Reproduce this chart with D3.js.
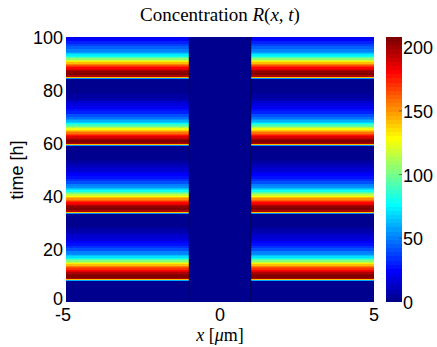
<!DOCTYPE html>
<html>
<head>
<meta charset="utf-8">
<script src="https://cdn.jsdelivr.net/npm/d3@7"></script>
<style>
  body { margin: 0; background: #fff; }
  svg { display: block; }
</style>
</head>
<body>
<script>
// concentration R(x,t): outer regions |x|>1 share one time profile, the gap |x|<1 stays at zero
const regionBounds = [-5, -1, 1, 5];
const regionHasR = [true, false, true];

// time samples [h] (each value holds until the next sample)
const timeH = [
  0, 7.9, 8.3, 8.7, 9.2, 9.7, 10.2, 10.7, 11.2, 11.7, 12.2, 12.7, 13.2, 13.7, 14.2, 14.7, 15.2, 15.7, 16.2, 16.7, 17.2, 17.7, 18.2, 19.2, 20.2, 21.2, 22.2, 23.2, 24.2, 25.2, 26.2, 27.2, 28.2, 29.2, 30.2,
  33.3, 33.7, 34.1, 34.6, 35.1, 35.6, 36.1, 36.6, 37.1, 37.6, 38.1, 38.6, 39.1, 39.6, 40.1, 40.6, 41.1, 41.6, 42.1, 42.6, 43.1, 43.6, 44.6, 45.6, 46.6, 47.6, 48.6, 49.6, 50.6, 51.6, 52.6, 53.6, 54.6, 55.6,
  58.7, 59.1, 59.5, 60.0, 60.5, 61.0, 61.5, 62.0, 62.5, 63.0, 63.5, 64.0, 64.5, 65.0, 65.5, 66.0, 66.5, 67.0, 67.5, 68.0, 68.5, 69.0, 70.0, 71.0, 72.0, 73.0, 74.0, 75.0, 76.0, 77.0, 78.0, 79.0, 80.0, 81.0,
  84.2, 84.6, 85.0, 85.5, 86.0, 86.5, 87.0, 87.5, 88.0, 88.5, 89.0, 89.5, 90.0, 90.5, 91.0, 91.5, 92.0, 92.5, 93.0, 93.5, 94.0, 94.5, 95.5, 96.5, 97.5, 98.5, 99.5, 100
];
const concR = [
  0, 60, 140, 198, 205, 206, 202, 196, 188, 180, 172, 163, 153, 142, 130, 116, 103, 91, 80, 70, 62, 55, 49, 41, 34, 28, 23, 18, 14, 10, 7, 4, 2, 1, 0,
  55, 140, 198, 205, 206, 202, 196, 188, 180, 171, 162, 152, 141, 129, 116, 103, 91, 80, 70, 62, 55, 49, 41, 34, 28, 23, 18, 14, 10, 7, 4, 2, 1, 0,
  55, 140, 197, 204, 205, 200, 194, 186, 177, 168, 158, 148, 137, 125, 112, 100, 88, 77, 68, 60, 53, 47, 39, 32, 26, 21, 17, 13, 9, 6, 4, 2, 1, 0,
  55, 140, 198, 205, 206, 202, 196, 188, 180, 172, 163, 153, 142, 130, 117, 104, 92, 81, 72, 64, 57, 51, 43, 36, 30, 25, 21, 21
];

const xTicks = [-5, 0, 5];
const yTicks = [0, 20, 40, 60, 80, 100];
const cTicks = [0, 50, 100, 150, 200];
const cMax = 208;

const W = 437, H = 347;
const svg = d3.select("body").append("svg")
  .attr("width", W)
  .attr("height", H);

const x = d3.scaleLinear().domain([-5, 5]).range([66, 374]);
const y = d3.scaleLinear().domain([0, 100]).range([302, 37]);
const cy = d3.scaleLinear().domain([0, cMax]).range([302, 37]);

// matlab jet(64)
function jetU(j) {
  if (j < 1 || j > 47) return 0;
  if (j <= 16) return j / 16;
  if (j <= 31) return 1;
  return (48 - j) / 16;
}
const jet = d3.range(1, 65).map(k => d3.rgb(jetU(k - 24) * 255, jetU(k - 8) * 255, jetU(k + 8) * 255).formatHex());
const color = d3.scaleQuantize().domain([0, cMax]).range(jet);

// heatmap cells
const cells = [];
regionHasR.forEach((has, r) => {
  timeH.forEach((t, i) => {
    const t1 = i < timeH.length - 1 ? timeH[i + 1] : 100;
    if (t1 <= t) return;
    cells.push({ x0: regionBounds[r], x1: regionBounds[r + 1], t0: t, t1: t1, v: has ? concR[i] : 0 });
  });
});

svg.append("g")
  .selectAll("rect")
  .data(cells)
  .enter()
  .append("rect")
  .attr("x", d => x(d.x0))
  .attr("width", d => x(d.x1) - x(d.x0))
  .attr("y", d => y(d.t1))
  .attr("height", d => y(d.t0) - y(d.t1))
  .attr("fill", d => color(d.v))
  .attr("shape-rendering", "crispEdges");

// faint cell edges at the gap boundaries
svg.append("g")
  .selectAll("line")
  .data([-1, 1])
  .enter()
  .append("line")
  .attr("x1", d => x(d)).attr("x2", d => x(d))
  .attr("y1", y(100)).attr("y2", y(0))
  .attr("stroke", "#00003c")
  .attr("stroke-width", 0.7);

const sans = "'Liberation Sans', Arial, Helvetica, sans-serif";
const serif = "'Liberation Serif', 'DejaVu Serif', serif";

// y tick labels
svg.append("g")
  .selectAll("text")
  .data(yTicks)
  .enter()
  .append("text")
  .attr("x", 63)
  .attr("y", d => y(d) - (d === 0 ? 4 : 0))
  .attr("dy", "0.4em")
  .attr("text-anchor", "end")
  .style("font-family", sans)
  .style("font-size", "18px")
  .text(d => d);

// x tick labels
svg.append("g")
  .selectAll("text")
  .data(xTicks)
  .enter()
  .append("text")
  .attr("x", d => x(d) - (d < 0 ? 3 : 0))
  .attr("y", 321)
  .attr("text-anchor", "middle")
  .style("font-family", sans)
  .style("font-size", "18px")
  .text(d => d);

// axis labels
svg.append("text")
  .attr("transform", "translate(23,170) rotate(-90)")
  .attr("text-anchor", "middle")
  .style("font-family", sans)
  .style("font-size", "18px")
  .text("time [h]");

const xl = svg.append("text")
  .attr("x", x(0))
  .attr("y", 341)
  .attr("text-anchor", "middle")
  .style("font-family", serif)
  .style("font-size", "18px");
xl.append("tspan").style("font-style", "italic").text("x");
xl.append("tspan").text(" [");
xl.append("tspan").style("font-style", "italic").text("μ");
xl.append("tspan").text("m]");

const title = svg.append("text")
  .attr("x", x(0))
  .attr("y", 21)
  .attr("text-anchor", "middle")
  .style("font-family", serif)
  .style("font-size", "19px");
title.append("tspan").text("Concentration ");
title.append("tspan").style("font-style", "italic").text("R");
title.append("tspan").text("(");
title.append("tspan").style("font-style", "italic").text("x");
title.append("tspan").text(", ");
title.append("tspan").style("font-style", "italic").text("t");
title.append("tspan").text(")");

// colorbar
const cbX = 386, cbW = 16;
const cbSteps = d3.range(64);
svg.append("g")
  .selectAll("rect")
  .data(cbSteps)
  .enter()
  .append("rect")
  .attr("x", cbX)
  .attr("width", cbW)
  .attr("y", k => cy((k + 1) * cMax / 64))
  .attr("height", k => cy(k * cMax / 64) - cy((k + 1) * cMax / 64))
  .attr("fill", k => jet[k])
  .attr("shape-rendering", "crispEdges");

svg.append("g")
  .selectAll("line")
  .data(cTicks.slice(1))
  .enter()
  .append("line")
  .attr("x1", cbX + cbW - 3).attr("x2", cbX + cbW)
  .attr("y1", d => cy(d)).attr("y2", d => cy(d))
  .attr("stroke", "#333")
  .attr("stroke-width", 0.6);

svg.append("g")
  .selectAll("text")
  .data(cTicks)
  .enter()
  .append("text")
  .attr("x", 403)
  .attr("y", d => cy(d))
  .attr("dy", "0.4em")
  .style("font-family", sans)
  .style("font-size", "18px")
  .text(d => d);
</script>
</body>
</html>
